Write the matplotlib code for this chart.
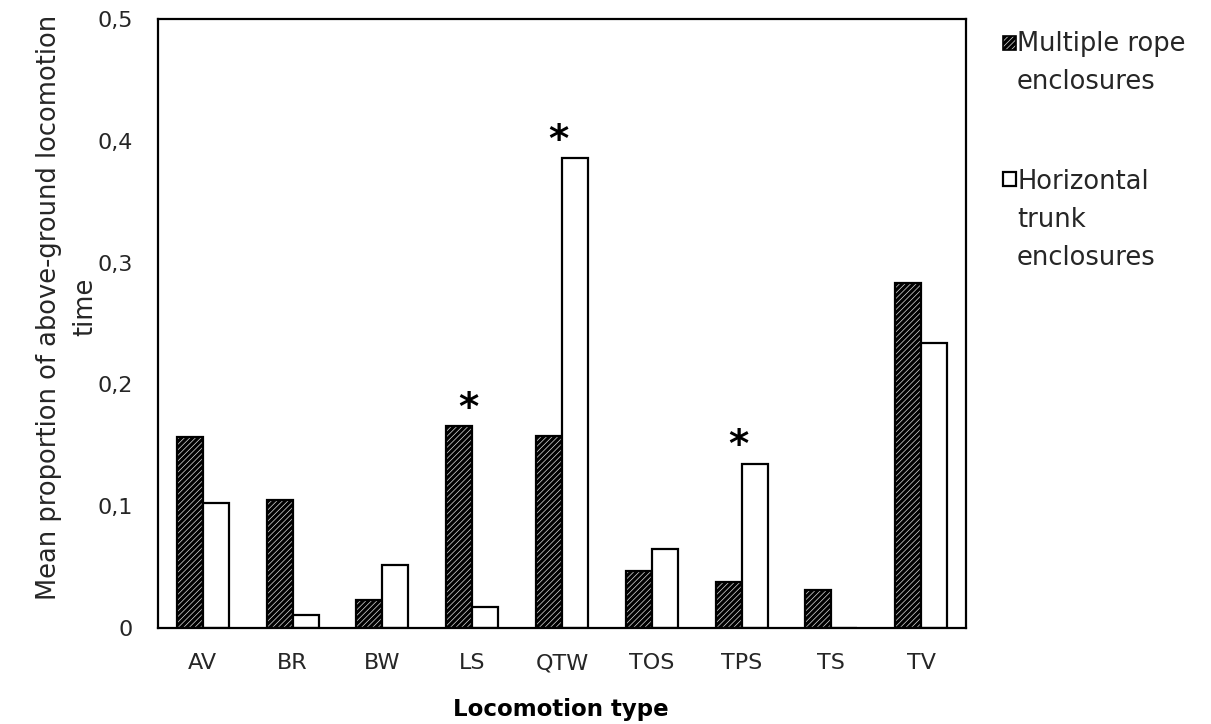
import numpy as np
import matplotlib.pyplot as plt
from matplotlib.patches import Rectangle

categories = ['AV', 'BR', 'BW', 'LS', 'QTW', 'TOS', 'TPS', 'TS', 'TV']
multiple_rope = [0.157, 0.105, 0.023, 0.166, 0.158, 0.047, 0.038, 0.031, 0.283]
horizontal_trunk = [0.103, 0.011, 0.052, 0.017, 0.386, 0.065, 0.135, 0.0, 0.234]
significant = ['LS', 'QTW', 'TPS']   # marked with *
yticks = [0, 0.1, 0.2, 0.3, 0.4, 0.5]
ytick_labels = ['0', '0,1', '0,2', '0,3', '0,4', '0,5']

plt.rcParams['font.family'] = 'DejaVu Sans'
plt.rcParams['hatch.linewidth'] = 0.5

W, H = 1211, 724
fig = plt.figure(figsize=(W / 100, H / 100), dpi=100)
ax = fig.add_axes([158 / W, 1 - 628 / H, (966 - 158) / W, (628 - 19) / H])

x = np.arange(len(categories))
w = 0.29

# hatched bars = black fill with white diagonal lines, outline drawn on top
ax.bar(x - w / 2, multiple_rope, w, color='black', edgecolor='#dddddd', hatch='//////', linewidth=0)
ax.bar(x - w / 2, multiple_rope, w, fill=False, edgecolor='black', linewidth=1.6)
ax.bar(x + w / 2, horizontal_trunk, w, color='white', edgecolor='black', linewidth=1.6)

for cat in significant:
    i = categories.index(cat)
    top = max(multiple_rope[i], horizontal_trunk[i])
    ax.text(i - 0.04, top + 0.005, '*', ha='center', va='baseline',
            fontsize=28, fontweight='bold')

ax.set_xlim(-0.5, len(categories) - 0.5)
ax.set_ylim(0, 0.5)
ax.set_xticks(x)
ax.set_xticklabels(categories, fontsize=16, color='#262626')
ax.set_yticks(yticks)
ax.set_yticklabels(ytick_labels, fontsize=16, color='#262626')
ax.tick_params(axis='x', length=0, pad=18)
ax.tick_params(axis='y', length=0, pad=18)
for s in ax.spines.values():
    s.set_linewidth(1.6)

fig.text(561 / W, 1 - 716 / H, 'Locomotion type', ha='center', va='baseline',
         fontsize=16.5, fontweight='bold')
fig.text(67 / W, 1 - 307 / H, 'Mean proportion of above-ground locomotion\ntime',
         rotation=90, ha='center', va='center', multialignment='center',
         fontsize=18.5, linespacing=1.5, color='#262626')

# legend drawn by hand (marker aligned with first line of wrapped label)
def fig_rect(x0, y0, x1, y1, **kw):
    r = Rectangle((x0 / W, 1 - y1 / H), (x1 - x0) / W, (y1 - y0) / H,
                  transform=fig.transFigure, **kw)
    fig.add_artist(r)

fig_rect(1003, 36, 1016, 50, facecolor='black', edgecolor='#dddddd', hatch='//////', linewidth=0)
fig_rect(1003, 36, 1016, 50, fill=False, edgecolor='black', linewidth=1.2)
fig_rect(1003, 172, 1016, 186, facecolor='white', edgecolor='black', linewidth=1.6)

fig.text(1017 / W, 1 - 31 / H, 'Multiple rope\nenclosures', ha='left', va='top',
         fontsize=18.5, linespacing=1.6, color='#262626')
fig.text(1017 / W, 1 - 169 / H, 'Horizontal\ntrunk\nenclosures', ha='left', va='top',
         fontsize=18.5, linespacing=1.6, color='#262626')

fig.savefig('out.png', dpi=100)
